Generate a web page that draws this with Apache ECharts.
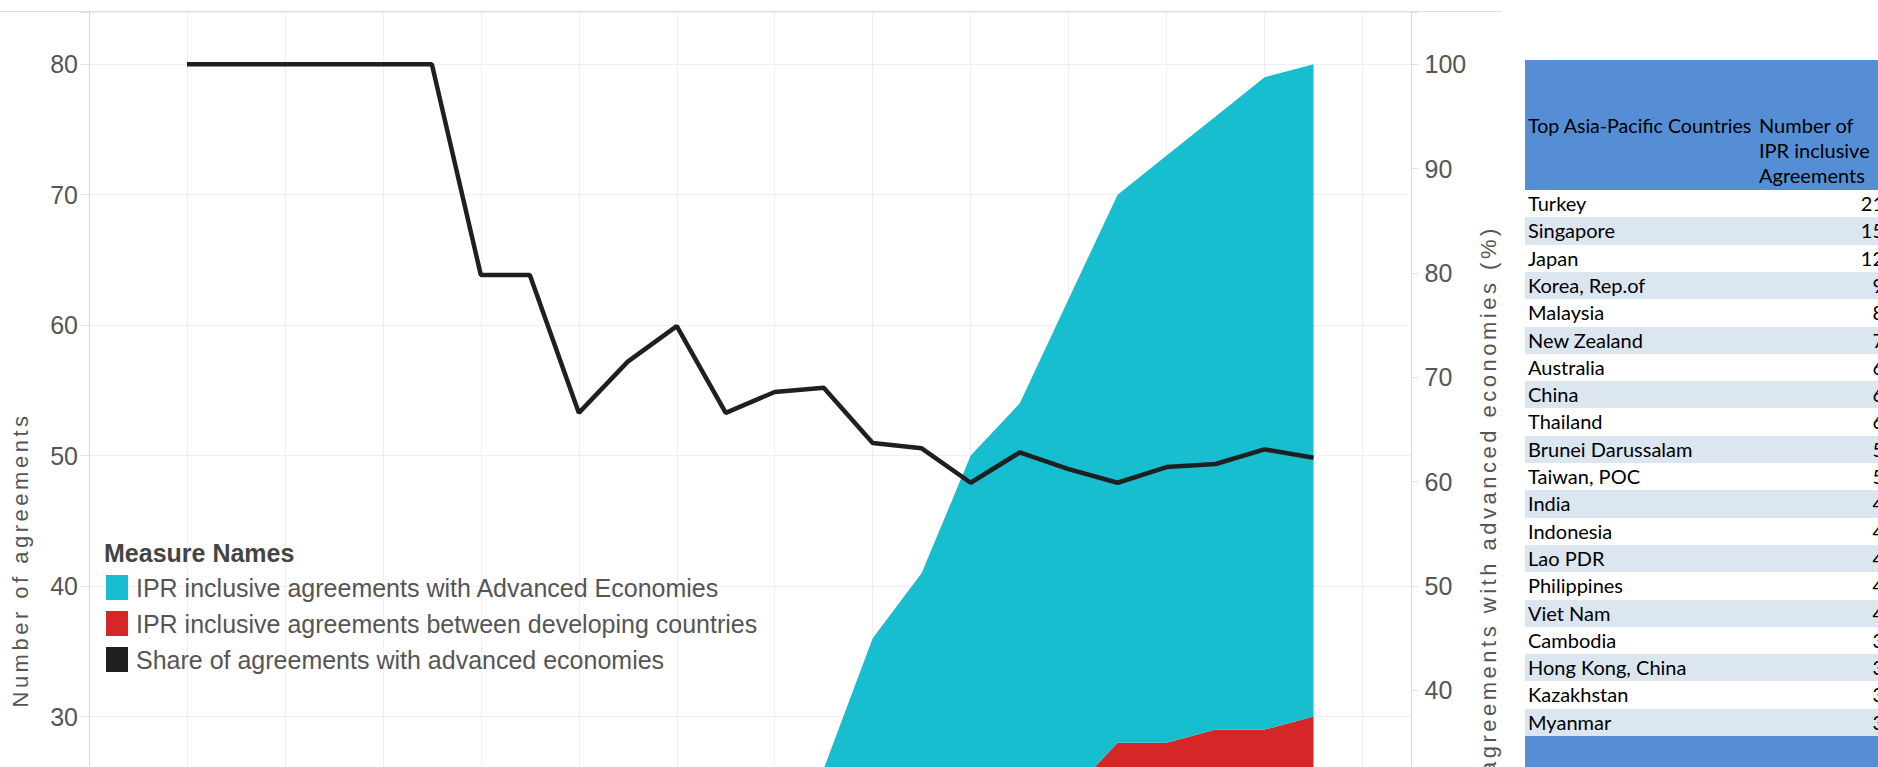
<!DOCTYPE html>
<html><head><meta charset="utf-8">
<script src="https://cdn.jsdelivr.net/npm/echarts@6/dist/echarts.min.js"></script>
<style>
html,body{margin:0;padding:0;width:1878px;height:767px;overflow:hidden;background:#fff;}
#chart{position:absolute;left:0;top:0;width:1878px;height:1140px;}
#tbl{position:absolute;left:1525px;top:60px;width:362px;height:760px;font-family:Lato,'Open Sans',sans-serif;font-size:20px;color:#000;}
#tbl .hdr{position:absolute;left:0;top:0;width:100%;height:130px;background:#558ED5;}
#tbl .ht{position:absolute;line-height:25px;white-space:nowrap;}
#tbl .row{position:absolute;left:0;width:100%;height:27.3px;line-height:27.3px;}
#tbl .row .c{position:absolute;left:3px;white-space:nowrap;}
#tbl .row .n{position:absolute;right:3px;}
#tbl .ftr{position:absolute;left:0;top:676px;width:100%;height:80px;background:#558ED5;}
</style></head><body>
<div id="chart"></div>
<div id="tbl"></div>
<script>
// ---- data ----
const axisYears = ['1992','1993','1994','1995','1996','1997','1998','1999','2000','2001','2002','2003','2004','2005','2006','2007','2008','2009','2010','2011','2012','2013','2014','2015','2016','2017','2018','2019'];
const years = ['1994','1995','1996','1997','1998','1999','2000','2001','2002','2003','2004','2005','2006','2007','2008','2009','2010','2011','2012','2013','2014','2015','2016','2017'];
const advanced = [1,1,2,2,3,3,4,4,4,5,6,8,11,18,23,26,30,34,38,42,45,47,50,50];
const developing = [0,0,0,0,0,0,1,1,2,2,2,4,5,8,13,15,20,20,24,28,28,29,29,30];
const share = [100,100,100,100,100,100,79.8,79.8,66.6,71.5,74.9,66.6,68.6,69.0,63.7,63.2,59.9,62.8,61.2,59.9,61.4,61.7,63.1,62.3];
const seriesNames = ['IPR inclusive agreements with Advanced Economies','IPR inclusive agreements between developing countries','Share of agreements with advanced economies'];
const leftTitle = 'Number of agreements';
const rightTitle = 'Share of agreements with advanced economies (%)';
const legendTitle = 'Measure Names';
const countries = ['Turkey','Singapore','Japan','Korea, Rep.of','Malaysia','New Zealand','Australia','China','Thailand','Brunei Darussalam','Taiwan, POC','India','Indonesia','Lao PDR','Philippines','Viet Nam','Cambodia','Hong Kong, China','Kazakhstan','Myanmar'];
const counts = [21,15,12,9,8,7,6,6,6,5,5,4,4,4,4,4,3,3,3,3];
const tableHeader1 = 'Top Asia-Pacific Countries';
const tableHeader2 = ['Number of','IPR inclusive','Agreements'];

// ---- table ----
const tbl = document.getElementById('tbl');
let html = '<div class="hdr"></div>';
html += '<div class="ht" style="left:3px;top:53px;font-size:19.6px">' + tableHeader1 + '</div>';
tableHeader2.forEach((t,i)=>{ html += '<div class="ht" style="left:234px;top:' + (53 + i*25) + 'px">' + t + '</div>'; });
countries.forEach((c,i)=>{
  const bg = i % 2 === 1 ? '#DCE6F1' : '#FFFFFF';
  html += '<div class="row" style="top:' + (130 + i*27.3) + 'px;background:' + bg + '"><span class="c">' + c + '</span><span class="n">' + counts[i] + '</span></div>';
});
html += '<div class="ftr"></div>';
tbl.innerHTML = html;

// ---- chart ----
const FONT = "'Liberation Sans', Arial, sans-serif";
const TEAL = '#17becf', RED = '#d62728', BLACK = '#1f1f1f';
function onAxis(arr){ return axisYears.map(y => { const i = years.indexOf(y); return i < 0 ? '-' : arr[i]; }); }
const chart = echarts.init(document.getElementById('chart'), null, {renderer:'svg'});
const option = {
  animation:false,
  title:{text:legendTitle, left:104, top:540, padding:0,
    textStyle:{fontFamily:FONT, fontSize:25, fontWeight:'bold', color:'#444'}},
  legend:{orient:'vertical', left:106, top:575, padding:0, itemGap:11, itemWidth:22, itemHeight:25,
    icon:'rect', selectedMode:false, data:[seriesNames[0],seriesNames[1],seriesNames[2]],
    textStyle:{fontFamily:FONT, fontSize:25, color:'#555', padding:[0,0,0,3]}},
  graphic:[{type:'line', shape:{x1:0,y1:11.5,x2:1502,y2:11.5}, style:{stroke:'#dedede', lineWidth:1}, silent:true}],
  grid:{left:89, top:12, width:1322.5, height:1096},
  xAxis:{type:'category', data:axisYears, boundaryGap:false,
    axisLine:{show:false}, axisTick:{show:false}, axisLabel:{show:false},
    splitLine:{show:true, interval:1, lineStyle:{color:'#efefef', width:1}}},
  yAxis:[
    {type:'value', min:0, max:84, interval:10, position:'left',
     name:leftTitle, nameLocation:'middle', nameGap:58, nameRotate:90,
     nameTextStyle:{fontFamily:FONT, fontSize:22, color:'#555'},
     axisLine:{show:true, lineStyle:{color:'#d9d9d9', width:1}},
     axisTick:{show:true, length:8, lineStyle:{color:'#e0e0e0'}},
     axisLabel:{margin:11, fontSize:25, fontFamily:FONT, color:'#555', formatter:v => (v % 10 === 0 && v >= 30 ? String(v) : '')},
     splitLine:{show:true, lineStyle:{color:'#efefef', width:1}}},
    {type:'value', min:0, max:105, interval:10, position:'right',
     name:rightTitle, nameLocation:'middle', nameGap:62, nameRotate:90,
     nameTextStyle:{fontFamily:FONT, fontSize:22, color:'#555'},
     axisLine:{show:true, lineStyle:{color:'#d9d9d9', width:1}},
     axisTick:{show:true, length:7, lineStyle:{color:'#e0e0e0'}},
     axisLabel:{margin:13, fontSize:25, fontFamily:FONT, color:'#555', formatter:v => (v % 10 === 0 && v >= 40 ? String(v) : '')},
     splitLine:{show:false}}
  ],
  series:[
    {name:seriesNames[1], type:'line', stack:'total', symbol:'none',
     data:onAxis(developing),
     lineStyle:{width:0}, itemStyle:{color:RED}, areaStyle:{color:RED, opacity:1}, z:2},
    {name:seriesNames[0], type:'line', stack:'total', symbol:'none',
     data:onAxis(advanced),
     lineStyle:{width:0}, itemStyle:{color:TEAL}, areaStyle:{color:TEAL, opacity:1}, z:2},
    {name:seriesNames[2], type:'line', yAxisIndex:1, symbol:'none',
     data:onAxis(share),
     lineStyle:{width:4.5, color:BLACK}, itemStyle:{color:BLACK}, z:3}
  ]
};
chart.setOption(option);
function spaceTitles(){
  chart.getDom().querySelectorAll('text').forEach(t => {
    if (t.textContent === leftTitle || t.textContent === rightTitle) t.setAttribute('letter-spacing','3.5px');
  });
}
chart.on('finished', spaceTitles);
spaceTitles();
setTimeout(spaceTitles, 50);
</script>
</body></html>
